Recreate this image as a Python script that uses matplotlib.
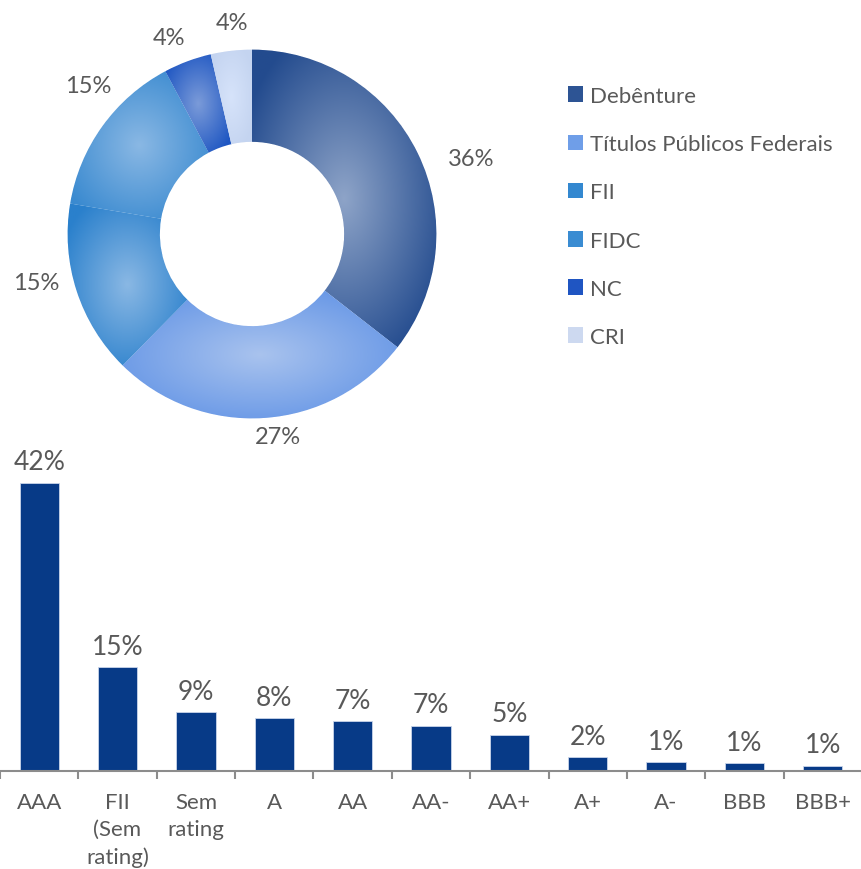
import numpy as np
import matplotlib
matplotlib.use("Agg")
import matplotlib.pyplot as plt
from matplotlib.colors import to_rgb
from matplotlib.patches import Patch

plt.rcParams['font.family'] = ['Lato', 'DejaVu Sans']

# donut data
types = ['Debênture', 'Títulos Públicos Federais', 'FII', 'FIDC', 'NC', 'CRI']
type_share = [35.6, 26.9, 15.3, 14.6, 4.2, 3.6]

# bar data
ratings = ['AAA', 'FII\n(Sem\nrating)', 'Sem\nrating', 'A', 'AA', 'AA-', 'AA+', 'A+', 'A-', 'BBB', 'BBB+']
rating_share = [42.0, 15.1, 8.6, 7.7, 7.3, 6.6, 5.3, 2.0, 1.3, 1.1, 0.8]

edge_cols = ['#234b8e', '#6495e6', '#2a80cc', '#3a8ad0', '#1e56c2', '#c4d4f0']
center_cols = ['#8ea4c8', '#a9c3ee', '#8ab8e4', '#8ab8e4', '#7b9bd9', '#d6e3fa']
legend_cols = ['#2d5494', '#6f9ee8', '#3388d0', '#3a8cd2', '#1f55c2', '#cdd9f0']
text_grey = '#595959'

# label placement (outside the ring, Excel style)
label_dist = [1.26, 1.11, 1.2, 1.2, 1.155, 1.15]
label_shift = [7, -3.5, 5.4, 6.5, -2.5, 1]   # degrees, clockwise

W, H = 862, 870
fig = plt.figure(figsize=(W / 100, H / 100), dpi=100)

# ---- donut ----
cx, cy, half = 252, 235, 212
ax1 = fig.add_axes([(cx - half) / W, (H - cy - half) / H, 2 * half / W, 2 * half / H])
wedges, _ = ax1.pie(type_share, colors=edge_cols, startangle=90, counterclock=False,
                    radius=1, wedgeprops=dict(width=0.5, edgecolor='white', linewidth=0.6))
ax1.set_xlim(-1.15, 1.15)
ax1.set_ylim(-1.15, 1.15)
ax1.set_aspect('equal')
ax1.axis('off')

# radial shading for each slice, centred on the slice's bounding box
gx, gy = np.meshgrid(np.linspace(-1.05, 1.05, 500), np.linspace(-1.05, 1.05, 500))
for w, c_in, c_out in zip(wedges, center_cols, edge_cols):
    bb = w.get_path().get_extents()
    mx, my = (bb.x0 + bb.x1) / 2, (bb.y0 + bb.y1) / 2
    hw, hh = max(bb.width / 2, 1e-3), max(bb.height / 2, 1e-3)
    d = np.clip(np.sqrt(((gx - mx) / hw) ** 2 + ((gy - my) / hh) ** 2) / 1.2, 0, 1)[..., None]
    img = np.array(to_rgb(c_in)) * (1 - d) + np.array(to_rgb(c_out)) * d
    im = ax1.imshow(img, extent=(-1.05, 1.05, -1.05, 1.05), origin='lower',
                    interpolation='bilinear', zorder=1.5)
    im.set_clip_path(w)

for w, v, r, s in zip(wedges, type_share, label_dist, label_shift):
    ang = np.deg2rad((w.theta1 + w.theta2) / 2 - s)
    ax1.text(r * np.cos(ang), r * np.sin(ang), f'{v:.0f}%', ha='center', va='center',
             fontsize=17, color=text_grey)

handles = [Patch(facecolor=c, edgecolor='none') for c in legend_cols]
fig.legend(handles, types, loc='upper left', bbox_to_anchor=(559 / W, 1 - 78 / H),
           frameon=False, fontsize=16, labelcolor=text_grey, handlelength=0.7,
           handleheight=0.7, handletextpad=0.3, labelspacing=1.27, borderaxespad=0)

# ---- bars ----
ax2 = fig.add_axes([0, (H - 772) / H, 1, 309 / H])
x = np.arange(len(ratings))
bars = ax2.bar(x, rating_share, width=0.5, color='#073a87', edgecolor='#c9d5ea', linewidth=0.6)
ax2.bar_label(bars, fmt='{:.0f}%', padding=6, fontsize=19, color=text_grey)
ax2.set_xlim(-0.5, len(ratings) - 0.5)
ax2.set_ylim(0, 45)
for s in ['top', 'right', 'left']:
    ax2.spines[s].set_visible(False)
ax2.spines['bottom'].set_color('#8c8c8c')
ax2.spines['bottom'].set_linewidth(1.5)
ax2.set_yticks([])
ax2.set_xticks(x)
ax2.set_xticklabels(ratings, fontsize=16, color=text_grey, linespacing=1.45)
ax2.tick_params(axis='x', length=0, pad=15)
ax2.set_xticks(np.arange(len(ratings) + 1) - 0.5, minor=True)
ax2.tick_params(axis='x', which='minor', length=6, width=1.5, color='#8c8c8c')

fig.savefig('out.png', dpi=100)
